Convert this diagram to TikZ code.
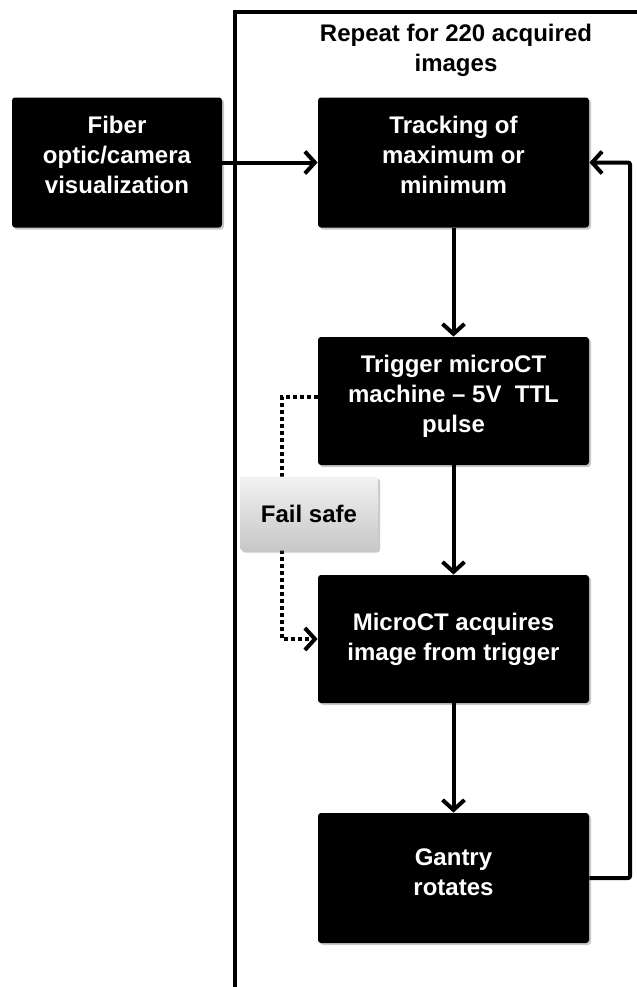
\documentclass[tikz,border=0pt]{standalone}
\usepackage{fontspec}
\setmainfont{Liberation Sans}
\usepackage{tikz}
\usetikzlibrary{arrows.meta}
\usetikzlibrary{shadows}
\definecolor{failtop}{gray}{.95}
\definecolor{failbottom}{gray}{.78}
\newcommand{\widthstage}{135.5pt}
\newcommand{\heightstage}{65pt}
\tikzset{
    common/.style={rectangle, rounded corners=1.5pt, align=center, inner sep=2pt,
        font=\fontsize{12}{15}\selectfont\bfseries,
        drop shadow={shadow xshift=1pt, shadow yshift=-1pt, opacity=.3, fill=black!70}},
    stage/.style={common, fill=black, text=white, minimum width=\widthstage, minimum height=\heightstage},
    raised/.style={text depth=#1},
    note/.style={common, top color=failtop, bottom color=failbottom, text=black, minimum width=69pt, minimum height=37pt},
    flow/.style={-{Straight Barb[length=5pt, width=11pt, line width=2pt]}, line width=2pt},
    failpath/.style={flow, dash pattern=on 2pt off 1.5pt},
    frame/.style={line width=2pt}
}

\begin{document}
\begin{tikzpicture}[x=0.5pt, y=-0.5pt]
        \useasboundingbox (0,0) rectangle (637,987);

        % loop frame, runs off the page to the right and bottom
        \draw[frame] (235,1000) -- (235,12) -- (650,12);
        \node[font=\fontsize{12}{15}\selectfont\bfseries, align=center] (title) at (456,50) {Repeat for 220 acquired\\images};

        \node[stage, raised=8pt, minimum width=105pt] (fiber) at (117,162.5) {Fiber\\optic/camera\\visualization};
        \node[stage, raised=8pt] (tracking) at (453.5,162.5) {Tracking of\\maximum or\\minimum};
        \node[stage, raised=7pt, minimum height=64pt] (trigger) at (453.5,401) {Trigger microCT\\machine -- 5V~ TTL\\pulse};
        \node[stage, minimum height=64pt] (microct) at (453.5,639) {MicroCT acquires\\image from trigger};
        \node[stage, raised=6pt] (gantry) at (453.5,878) {Gantry\\rotates};
        \coordinate (loopx) at (630,0);
        \coordinate (failx) at (282,0);

        \draw[flow] (fiber) -- (tracking);
        \draw[flow] (tracking) -- (trigger);
        \draw[flow] (trigger) -- (microct);
        \draw[flow] (microct) -- (gantry);
        \draw[flow, rounded corners=1pt] (gantry.east) -- (gantry.east -| loopx) |- (tracking.east);

        % backup trigger, hidden behind the label box
        \draw[failpath] ([yshift=2pt]trigger.west) -| (failx |- microct.west) -- (microct.west);
        \node[note] (failsafe) at (309,513.5) {Fail safe};
    \end{tikzpicture}
\end{document}
